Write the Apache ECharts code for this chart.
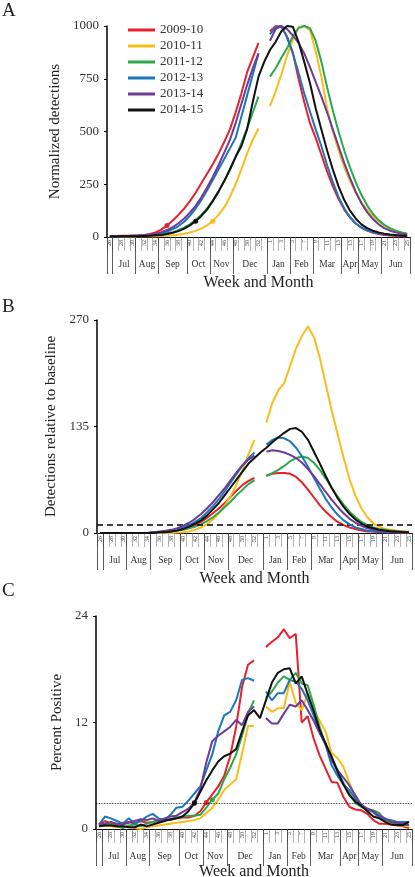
<!DOCTYPE html>
<html><head><meta charset="utf-8">
<script src="https://cdn.jsdelivr.net/npm/echarts@6/dist/echarts.min.js"></script>
<style>html,body{margin:0;padding:0;background:#fff}#c{width:415px;height:877px}</style>
</head><body><div id="c"></div>
<script>
const seasons = ['2009-10','2010-11','2011-12','2012-13','2013-14','2014-15'];
const colors = ['#e8202a','#f9bd1b','#2aa84a','#1d75bb','#6d3b98','#111111'];
const weeks = [26,27,28,29,30,31,32,33,34,35,36,37,38,39,40,41,42,43,44,45,46,47,48,49,50,51,52,53,
  1,2,3,4,5,6,7,8,9,10,11,12,13,14,15,16,17,18,19,20,21,22,23,24,25];
const months = ['Jul','Aug','Sep','Oct','Nov','Dec','Jan','Feb','Mar','Apr','May','Jun'];
const monthEdges = [0,1,5,9,14,18,22,28,32,36,41,44,48,53];

// Panel A: normalized detections
const A_0910 = [5,5,6,6,7,8,10,14,22,35, 55,78,105,135,170,210,255,300,345,395, 450,510,590,680,780,850,920,null,975,1000, 995,950,875,750,640,540,470,390,310,240, 180,130,92,64,44,30,20,14,10,7, 5,4,3];
const A_1011 = [2,2,2,2,2,3,3,3,4,5, 6,8,11,15,21,29,40,55,75,105, 140,190,250,320,395,460,515,null,620,690, 770,860,935,995,1000,980,880,760,610,500, 410,330,265,210,165,128,98,74,55,40, 29,21,15];
const A_1112 = [3,3,3,4,4,5,6,8,10,13, 17,23,32,44,60,80,105,135,172,215, 265,320,380,445,515,590,665,null,760,800, 850,895,950,990,1000,990,930,830,710,600, 500,410,330,260,200,150,110,80,58,42, 30,22,16];
const A_1213 = [3,3,4,4,5,6,7,9,12,17, 25,37,52,72,100,135,175,220,270,320, 370,420,470,570,670,770,870,null,960,995, 1000,945,870,780,680,595,510,430,340,260, 190,135,95,65,45,32,23,17,13,10, 8,7,6];
const A_1314 = [4,4,5,5,6,7,9,12,16,23, 33,47,65,88,115,148,188,235,285,340, 400,460,540,630,720,800,870,null,930,985, 1000,985,955,920,870,805,735,665,590,510, 430,350,280,215,160,118,85,60,42,30, 22,16,12];
const A_1415 = [2,2,3,3,3,4,5,6,8,10, 14,20,28,40,55,75,100,130,170,215, 265,320,380,430,510,640,760,830,886,925, 975,1000,997,925,830,730,610,510,410,320, 240,175,125,88,60,42,30,22,16,12, 9,7,6];
const onsetA = [10, 18, null, null, null, 15];

// Panel B: detections relative to baseline
const B_0910 = [0,0,0,0,0,0,0,0,0,1, 1,2,3,4,5,7,10,14,19,25, 31,38,46,54,61,66,70,null,73,75, 76,76,75,71,64,55,45,35,27,20, 14,10,7,5,3,2,2,1,1,1, 1,0,0];
const B_1011 = [0,0,0,0,0,0,0,0,0,0, 0,0,0,0.5,1,2,4,7,11,17, 25,35,47,62,80,100,118,null,140,165, 181,190,212,234,250,262,248,222,188,155, 125,95,68,47,31,20,12,8,5,4, 3,2,2];
const B_1112 = [0,0,0,0,0,0,0,0,0,0, 1,1,2,3,4,6,8,11,15,20, 26,33,40,48,55,62,67,null,72,76, 80,85,91,95,97,95,89,80,69,57, 46,36,27,20,14,10,7,5,4,3, 2,2,1];
const B_1213 = [0,0,0,0,0,0,0,0,0,1, 1,2,3,5,7,10,14,19,26,34, 43,53,64,75,86,95,102,null,112,118, 121,120,116,108,97,84,70,56,43,32, 23,16,11,7,5,3,2,2,1,1, 1,1,1];
const B_1314 = [0,0,0,0,0,0,0,0,0,1, 2,3,4,6,9,13,18,24,31,39, 48,57,67,77,86,93,98,null,103,105, 104,102,99,95,89,81,72,62,52,42, 33,25,18,13,9,6,4,3,2,2, 1,1,1];
const B_1415 = [0,0,0,0,0,0,0,0,0,0, 1,1,2,3,5,8,12,16,22,30, 38,48,58,68,78,88,95,102,108,115, 121,127,132,133,128,118,103,88,72,57, 44,33,24,17,12,8,6,4,3,2, 2,1,1];
const baselineB = 11;

// Panel C: percent positive
const C_0910 = [0.5,0.9,0.6,0.5,0.7,0.8,0.6,0.9,0.7,0.8, 1.0,1.1,1.0,1.2,1.3,1.3,1.5,2.0,3.0,3.9, 4.8,6.0,8.2,11.5,16.0,18.5,19.0,null,20.5,21.1, 21.6,22.5,21.5,22.0,12.0,12.7,10.2,8.3,6.8,5.3, 5.2,3.6,2.5,2.2,2.1,1.7,1.0,0.6,0.6,0.5, 0.4,0.3,0.1];
const C_1011 = [0.3,0.4,0.3,0.2,0.3,0.2,0.1,0.0,0.2,0.3, 0.4,0.5,0.6,0.7,0.8,0.9,1.0,1.2,1.8,2.4, 3.3,4.4,5.0,5.6,8.5,11.6,11.6,null,13.8,13.2, 13.6,13.6,16.6,14.2,13.4,15.3,13.5,12.2,11.0,8.6, 8.0,7.0,5.2,3.6,2.6,2.2,2.1,1.5,1.0,0.6, 0.45,0.4,0.3];
const C_1112 = [0.4,0.6,0.5,0.3,0.1,0.4,0.5,0.3,0.6,0.8, 0.9,1.0,1.1,1.3,1.4,1.5,1.5,1.6,2.4,3.3, 4.0,5.6,6.9,8.4,10.5,13.0,14.5,null,14.8,15.5, 16.5,17.2,16.8,17.6,16.4,16.2,14.0,11.5,9.5,8.0, 6.7,5.2,4.0,2.9,2.5,2.3,2.1,1.8,1.0,0.8, 0.6,0.5,0.45];
const C_1213 = [0.5,1.4,1.2,0.9,0.6,1.2,0.6,0.9,1.4,1.7, 1.2,1.0,1.6,2.4,2.5,3.2,4.0,4.8,6.6,8.4, 11.0,12.8,13.2,14.5,16.8,17.0,16.7,null,15.5,14.5, 15.3,15.3,16.8,16.6,15.8,14.5,12.8,10.9,9.5,7.2, 6.0,5.0,4.4,3.4,2.8,2.2,1.9,1.3,1.1,1.0, 0.8,0.8,0.8];
const C_1314 = [0.5,0.6,0.8,0.6,0.5,0.7,0.9,1.1,1.0,1.2, 0.9,1.2,1.4,1.5,1.9,2.3,3.0,4.5,7.5,9.9, 10.5,11.0,11.5,12.3,11.7,13.2,13.8,null,12.5,11.9, 11.9,13.0,14.0,13.8,14.5,13.4,12.2,10.8,9.7,7.8, 6.6,5.8,4.9,3.8,2.7,2.3,2.0,1.5,1.2,0.8, 0.7,0.6,0.45];
const C_1415 = [0.3,0.4,0.4,0.3,0.3,0.2,0.2,0.5,0.3,0.5, 0.7,0.9,1.1,1.2,1.4,2.0,2.9,4.2,5.5,6.6, 7.6,8.2,8.5,9.0,11.0,12.8,13.4,12.5,14.5,16.5, 17.6,18.0,18.1,16.4,17.2,15.2,13.3,11.2,9.6,8.2, 6.5,5.0,3.8,3.1,2.6,2.0,1.4,1.2,0.8,0.5, 0.45,0.45,0.8];
const thresholdC = 2.9;
const onsetC = [18, null, 19, null, 16, 16];

const panelA = [A_0910,A_1011,A_1112,A_1213,A_1314,A_1415];
const panelB = [B_0910,B_1011,B_1112,B_1213,B_1314,B_1415];
const panelC = [C_0910,C_1011,C_1112,C_1213,C_1314,C_1415];
const onsets = [onsetA, [null,null,null,null,null,null], onsetC];

const FONT = 'Liberation Serif';
const monthMids = months.map((m,k)=> (monthEdges[k+1]+monthEdges[k+2])/2);
const weekSeps = weeks.map((w,k)=>k).concat([weeks.length]);

const grids = [
  {left:107, right:5, top:26, height:211, outerBoundsMode:'none'},
  {left:97, right:3, top:320, height:213, outerBoundsMode:'none'},
  {left:96, right:3, top:616, height:213, outerBoundsMode:'none'}
];
const yDefs = [
  {max:1000, interval:250, name:'Normalized detections', gap:37},
  {max:270, interval:135, name:'Detections relative to baseline', gap:25},
  {max:24, interval:12, name:'Percent Positive', gap:26}
];
const xNameGaps = [38, 38, 35];

const xAxis = [], yAxis = [];
grids.forEach((g,p)=>{
  xAxis.push({type:'category', gridIndex:p, data:weeks.map(String), boundaryGap:true,
    axisLine:{lineStyle:{color:'#000', width:1.2}}, axisTick:{show:false},
    axisLabel:{interval:1, rotate:90, fontSize:6, margin:3, color:'#444', fontFamily:FONT},
    splitLine:{show:false}});
  xAxis.push({type:'value', gridIndex:p, min:0, max:weeks.length, position:'bottom',
    axisLine:{show:false}, splitLine:{show:false}, axisLabel:{show:false},
    axisTick:{show:true, customValues:weekSeps, length:14, lineStyle:{color:'#666', width:0.5}}});
  xAxis.push({type:'value', gridIndex:p, min:0, max:weeks.length, position:'bottom',
    axisLine:{show:false}, splitLine:{show:false},
    axisTick:{show:true, customValues:monthEdges, length:37, lineStyle:{color:'#333', width:0.8}},
    axisLabel:{show:true, customValues:monthMids, margin:22, fontSize:9.5, color:'#333', fontFamily:FONT,
      formatter:(v)=>{const k = monthMids.indexOf(v); return k>=0 ? months[k] : '';}},
    name:'Week and Month', nameLocation:'middle', nameGap:xNameGaps[p],
    nameTextStyle:{fontSize:16, color:'#222', fontFamily:FONT}});
  const d = yDefs[p];
  yAxis.push({type:'value', gridIndex:p, min:0, max:d.max, interval:d.interval,
    axisLine:{show:true, lineStyle:{color:'#000', width:1.5}},
    axisTick:{show:true, length:3, lineStyle:{color:'#000'}},
    axisLabel:{fontSize:13, color:'#333', fontFamily:FONT, margin:8, formatter:(v)=>String(v)},
    splitLine:{show:false},
    name:d.name, nameLocation:'middle', nameGap:d.gap,
    nameTextStyle:{fontSize:15, color:'#222', fontFamily:FONT}});
});

const series = [];
[panelA, panelB, panelC].forEach((panel,p)=>{
  panel.forEach((arr,s)=>{
    const on = onsets[p][s];
    const ser = {type:'line', name:seasons[s], xAxisIndex:p*3, yAxisIndex:p, data:arr,
      showSymbol: on !== null, showAllSymbol:true, symbolSize:5,
      symbol:(val, params)=> (params.dataIndex === on ? 'circle' : 'none'),
      connectNulls:false, lineStyle:{width:2, color:colors[s]}, itemStyle:{color:colors[s]},
      z: 2 + s, silent:true};
    if (s===0 && p===1) ser.markLine = {silent:true, symbol:['none','none'], label:{show:false},
      lineStyle:{color:'#000', type:[6,4], width:1.6}, data:[{yAxis:baselineB}]};
    if (s===0 && p===2) ser.markLine = {silent:true, symbol:['none','none'], label:{show:false},
      lineStyle:{color:'#000', type:'dotted', width:0.8}, data:[{yAxis:thresholdC}]};
    series.push(ser);
  });
});

const chart = echarts.init(document.getElementById('c'), null, {renderer:'canvas'});
chart.setOption({
  animation:false,
  backgroundColor:'#fff',
  grid:grids,
  xAxis, yAxis, series,
  legend:{data:seasons, orient:'vertical', left:123, top:18, itemWidth:27, itemHeight:3, itemGap:2,
    icon:'rect', textStyle:{fontSize:13, color:'#333', fontFamily:FONT, lineHeight:14}},
  graphic:[
    {type:'text', left:2, top:2, style:{text:'A', fontSize:19, fontFamily:FONT, fill:'#222'}},
    {type:'text', left:2, top:298, style:{text:'B', fontSize:19, fontFamily:FONT, fill:'#222'}},
    {type:'text', left:2, top:582, style:{text:'C', fontSize:19, fontFamily:FONT, fill:'#222'}}
  ]
});
</script></body></html>
